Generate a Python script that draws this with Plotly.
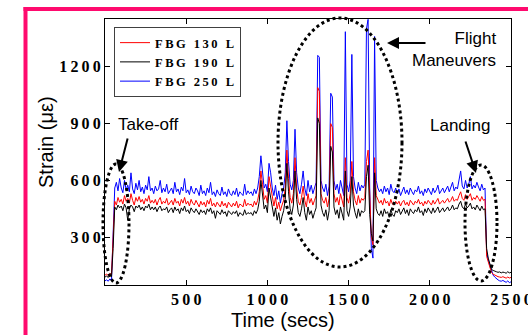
import plotly.graph_objects as go

# Time axis (seconds), one sample every 10 s
TIME = list(range(0, 2501, 10))

FBG_250_L = [
    70, 75, 68, 80, 72, 300, 560, 590, 545, 610,
    560, 535, 600, 550, 575, 540, 640, 555, 530, 585,
    550, 600, 540, 565, 530, 575, 550, 620, 545, 560,
    530, 570, 545, 555, 600, 535, 560, 540, 580, 530,
    545, 560, 530, 590, 540, 555, 525, 565, 545, 610,
    535, 550, 525, 570, 540, 530, 560, 545, 520, 575,
    530, 545, 520, 560, 535, 590, 525, 540, 515, 550,
    530, 520, 565, 525, 540, 515, 555, 530, 520, 545,
    525, 560, 515, 540, 530, 520, 580, 525, 545, 530,
    540, 520, 555, 530, 560, 620, 730, 650, 560, 580,
    540, 690, 640, 560, 520, 575, 500, 545, 480, 530,
    560, 640, 915, 700, 580, 550, 600, 870, 640, 560,
    530, 580, 650, 560, 520, 600, 540, 575, 530, 560,
    590, 1260, 1250, 600, 560, 540, 580, 520, 570, 1060,
    1040, 600, 550, 580, 530, 600, 560, 520, 1385, 580,
    540, 600, 1265, 620, 560, 530, 590, 545, 575, 560,
    580, 1400, 1450, 560, 240, 190, 1360, 600, 560, 540,
    555, 530, 570, 540, 560, 525, 580, 545, 535, 560,
    530, 555, 520, 545, 565, 530, 550, 525, 560, 540,
    525, 550, 540, 570, 530, 545, 520, 555, 535, 560,
    540, 525, 560, 535, 550, 575, 530, 545, 560, 535,
    550, 570, 540, 560, 590, 545, 565, 555, 600, 650,
    570, 555, 600, 560, 580, 620, 555, 575, 560, 590,
    565, 545, 580, 550, 560, 220, 180, 150, 120, 100,
    90, 80, 75, 70, 68, 72, 65, 62, 70, 60,
    65,
]

FBG_130_L = [
    100, 105, 98, 110, 102, 260, 490, 470, 510, 485,
    500, 475, 520, 490, 505, 480, 530, 495, 470, 510,
    490, 515, 485, 500, 475, 505, 490, 520, 480, 495,
    480, 500, 470, 495, 510, 475, 490, 480, 505, 470,
    485, 495, 470, 505, 480, 490, 465, 500, 480, 510,
    475, 490, 465, 500, 480, 470, 495, 475, 460, 490,
    470, 485, 460, 495, 475, 505, 465, 480, 460, 485,
    470, 460, 490, 465, 480, 455, 485, 470, 460, 480,
    465, 490, 455, 475, 470, 460, 500, 465, 480, 470,
    475, 460, 490, 470, 495, 540, 650, 580, 500, 520,
    480, 620, 570, 500, 465, 510, 450, 485, 440, 470,
    495, 560, 760, 610, 510, 480, 530, 720, 560, 490,
    470, 510, 570, 495, 460, 530, 480, 505, 470, 495,
    520, 1090, 1070, 530, 495, 480, 510, 460, 505, 900,
    880, 530, 485, 510, 470, 530, 495, 460, 720, 510,
    480, 530, 700, 540, 495, 470, 520, 480, 505, 495,
    510, 700, 760, 490, 300, 260, 720, 520, 495, 480,
    495, 470, 505, 480, 490, 465, 500, 475, 470, 490,
    475, 490, 465, 485, 495, 470, 485, 465, 495, 480,
    470, 490, 480, 500, 475, 485, 465, 490, 475, 495,
    480, 470, 495, 475, 490, 505, 475, 485, 495, 480,
    490, 505, 485, 495, 515, 490, 500, 495, 520, 540,
    505, 495, 525, 500, 515, 530, 495, 510, 500, 520,
    505, 490, 515, 495, 500, 200, 170, 140, 115, 105,
    100, 95, 92, 90, 88, 92, 86, 84, 90, 85,
    88,
]

FBG_190_L = [
    90, 95, 88, 100, 92, 240, 460, 445, 470, 455,
    465, 440, 475, 455, 390, 450, 470, 460, 435, 465,
    455, 470, 445, 460, 440, 465, 455, 475, 445, 460,
    445, 460, 435, 455, 465, 440, 450, 445, 460, 430,
    445, 455, 430, 460, 440, 450, 425, 455, 440, 465,
    435, 445, 425, 455, 440, 430, 450, 435, 420, 445,
    430, 440, 420, 450, 435, 455, 425, 440, 400, 440,
    430, 420, 445, 425, 435, 410, 440, 430, 420, 435,
    425, 440, 410, 430, 420, 415, 445, 420, 430, 425,
    430, 415, 440, 425, 445, 490, 600, 530, 450, 470,
    430, 560, 510, 440, 410, 455, 390, 430, 370, 410,
    440, 500, 690, 540, 450, 420, 470, 650, 500, 430,
    410, 450, 510, 430, 390, 460, 420, 440, 400, 430,
    455, 930, 900, 470, 430, 410, 445, 390, 440, 780,
    750, 460, 420, 445, 400, 460, 430, 390, 650, 440,
    410, 460, 620, 470, 430, 400, 450, 410, 440, 430,
    440, 620, 680, 420, 320, 280, 640, 450, 425, 415,
    440, 410, 450, 425, 435, 405, 445, 420, 410, 440,
    430, 450, 420, 440, 455, 425, 445, 415, 450, 435,
    425, 445, 435, 460, 430, 440, 415, 450, 430, 455,
    440, 425, 455, 430, 445, 460, 430, 440, 455, 435,
    445, 460, 440, 450, 470, 445, 455, 450, 475, 490,
    460, 450, 475, 455, 465, 480, 450, 460, 445, 470,
    455, 440, 465, 445, 450, 240, 190, 160, 130, 125,
    120, 118, 115, 117, 112, 116, 114, 110, 118, 112,
    115,
]

SERIES_NAMES = ["FBG 130 L", "FBG 190 L", "FBG 250 L"]
SERIES_COLORS = ["#FF0000", "#000000", "#0000FF"]

X_TICKS = [500, 1000, 1500, 2000, 2500]
Y_TICKS = [300, 600, 900, 1200]

TS = "\u2009"   # thin space to mimic letter spacing


def spaced(s, sep=TS):
    return sep.join(list(s))


W, H = 528, 335
L, R, T, B = 105, 511, 19, 285  # plot area in pixels


def px(x):
    return (x - L) / (R - L)


def py(y):
    return (B - y) / (B - T)


fig = go.Figure()

# draw order: blue bottom, red, black on top
order = [(2, FBG_250_L), (0, FBG_130_L), (1, FBG_190_L)]
for idx, vals in order:
    fig.add_trace(go.Scatter(
        x=TIME, y=vals, mode="lines",
        name=spaced(SERIES_NAMES[idx]),
        legendrank=idx + 1,
        line=dict(color=SERIES_COLORS[idx], width=1),
    ))

serif_bold = dict(family="Liberation Serif", size=16, color="black", weight="bold")
sans = "Liberation Sans"

fig.update_layout(
    width=W, height=H,
    margin=dict(l=L, r=W - R, t=T, b=H - B, pad=0, autoexpand=False),
    paper_bgcolor="white", plot_bgcolor="white",
    showlegend=True,
    legend=dict(
        x=px(114), y=py(27), xanchor="left", yanchor="top",
        bgcolor="white", bordercolor="#404040", borderwidth=1,
        font=dict(family="Liberation Serif", size=12.5, color="black", weight="bold"),
        itemwidth=30, tracegroupgap=0, entrywidth=100,
    ),
    xaxis=dict(
        range=[0, 2500], tickvals=X_TICKS,
        ticktext=[spaced(str(v)) for v in X_TICKS],
        ticks="inside", ticklen=5, tickcolor="black",
        showline=True, linecolor="black", linewidth=1, mirror="ticks",
        showgrid=False, zeroline=False, tickfont=serif_bold,
        ticklabeloverflow="allow", automargin=False,
    ),
    yaxis=dict(
        range=[48, 1452], tickvals=Y_TICKS,
        ticktext=[spaced(str(v)) for v in Y_TICKS],
        ticks="inside", ticklen=5, tickcolor="black",
        showline=True, linecolor="black", linewidth=1, mirror="ticks",
        showgrid=False, zeroline=False, tickfont=serif_bold,
        ticklabeloverflow="allow", automargin=False,
    ),
)

shapes = []
# dotted ellipses
for (x0, x1, y0, y1) in [(103, 129, 164, 283), (278, 402, 18, 267), (465, 497, 165, 281)]:
    shapes.append(dict(
        type="circle", xref="paper", yref="paper",
        x0=px(x0), x1=px(x1), y0=py(y1), y1=py(y0),
        line=dict(color="black", width=3, dash="dot"),
        layer="above",
    ))
# pink frame
pink = "#FF0A6E"
shapes.append(dict(type="line", xref="paper", yref="paper",
                   x0=px(25.5), x1=px(25.5), y0=py(340), y1=py(7),
                   line=dict(color=pink, width=4)))
shapes.append(dict(type="line", xref="paper", yref="paper",
                   x0=px(23.5), x1=px(540), y0=py(9), y1=py(9),
                   line=dict(color=pink, width=4)))
fig.update_layout(shapes=shapes)

annotations = [
    dict(text="Strain (\u03bc\u03b5)", xref="paper", yref="paper",
         x=px(46), y=py(142), textangle=-90, showarrow=False,
         xanchor="center", yanchor="middle",
         font=dict(family=sans, size=20, color="black")),
    dict(text="Time (secs)", xref="paper", yref="paper",
         x=px(283), y=py(320), showarrow=False,
         xanchor="center", yanchor="middle",
         font=dict(family=sans, size=20, color="black")),
    dict(text="Take-off", xref="paper", yref="paper",
         x=px(148), y=py(124), showarrow=False,
         xanchor="center", yanchor="middle",
         font=dict(family=sans, size=17, color="black")),
    dict(text="Flight<br>Maneuvers", xref="paper", yref="paper",
         x=px(454), y=py(49), showarrow=False,
         xanchor="center", yanchor="middle", align="right",
         font=dict(family=sans, size=17, color="black")),
    dict(text="Landing", xref="paper", yref="paper",
         x=px(460), y=py(125), showarrow=False,
         xanchor="center", yanchor="middle",
         font=dict(family=sans, size=17, color="black")),
    # arrows
    dict(text="", xref="paper", yref="paper", axref="pixel", ayref="pixel",
         x=px(119), y=py(172), ax=9, ay=-35, showarrow=True,
         arrowhead=2, arrowsize=1.2, arrowwidth=2, arrowcolor="black"),
    dict(text="", xref="paper", yref="paper", axref="pixel", ayref="pixel",
         x=px(387), y=py(43), ax=40, ay=0, showarrow=True,
         arrowhead=2, arrowsize=1.2, arrowwidth=2, arrowcolor="black"),
    dict(text="", xref="paper", yref="paper", axref="pixel", ayref="pixel",
         x=px(476), y=py(173), ax=-11, ay=-33, showarrow=True,
         arrowhead=2, arrowsize=1.2, arrowwidth=2, arrowcolor="black"),
]
fig.update_layout(annotations=annotations)

fig.write_html(
    "out.html",
    config={"displayModeBar": False},
    post_script="document.body.style.margin='0px';document.body.style.padding='0px';",
)
